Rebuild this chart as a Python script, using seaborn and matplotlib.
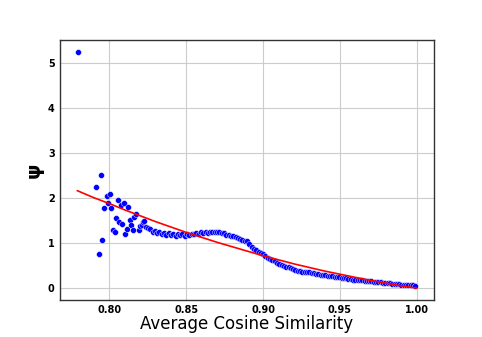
import numpy as np
import pandas as pd
import matplotlib
matplotlib.use("Agg")
import matplotlib.pyplot as plt
import seaborn as sns

# scattered points at low similarity
early_x = [0.7792, 0.7914, 0.7933, 0.7944, 0.7953, 0.7962, 0.7984, 0.7992, 0.8003, 0.8013,
           0.8023, 0.8034, 0.8043, 0.8053, 0.8063, 0.8073, 0.8082, 0.8093, 0.8102, 0.8112,
           0.8122, 0.8132, 0.8143, 0.8156, 0.8162, 0.8173, 0.8191, 0.8198, 0.8212, 0.8219,
           0.8224]
early_y = [5.25, 2.24, 0.77, 2.51, 1.07, 1.78, 2.04, 1.89, 2.09, 1.79,
           1.30, 1.25, 1.57, 1.96, 1.48, 1.85, 1.42, 1.90, 1.21, 1.31,
           1.81, 1.52, 1.40, 1.30, 1.58, 1.64, 1.29, 1.38, 1.41, 1.48,
           1.49]

# dense band of points
band_x = [0.8235, 0.8250, 0.8265, 0.8280, 0.8295, 0.8310, 0.8325, 0.8340, 0.8355, 0.8370,
          0.8385, 0.8400, 0.8415, 0.8430, 0.8445, 0.8460, 0.8475, 0.8490, 0.8505, 0.8520,
          0.8535, 0.8550, 0.8565, 0.8580, 0.8595, 0.8610, 0.8625, 0.8640, 0.8655, 0.8670,
          0.8685, 0.8700, 0.8715, 0.8730, 0.8745, 0.8760, 0.8775, 0.8790, 0.8805, 0.8820,
          0.8835, 0.8850, 0.8865, 0.8880, 0.8895, 0.8910, 0.8925, 0.8940, 0.8955, 0.8970,
          0.8985, 0.9000, 0.9015, 0.9030, 0.9045, 0.9060, 0.9075, 0.9090, 0.9105, 0.9120,
          0.9135, 0.9150, 0.9165, 0.9180, 0.9195, 0.9210, 0.9225, 0.9240, 0.9255, 0.9270,
          0.9285, 0.9300, 0.9315, 0.9330, 0.9345, 0.9360, 0.9375, 0.9390, 0.9405, 0.9420,
          0.9435, 0.9450, 0.9465, 0.9480, 0.9495, 0.9510, 0.9525, 0.9540, 0.9555, 0.9570,
          0.9585, 0.9600, 0.9615, 0.9630, 0.9645, 0.9660, 0.9675, 0.9690, 0.9705, 0.9720,
          0.9735, 0.9750, 0.9765, 0.9780, 0.9795, 0.9810, 0.9825, 0.9840, 0.9855, 0.9870,
          0.9885, 0.9900, 0.9915, 0.9930, 0.9945, 0.9960, 0.9975, 0.9990]
band_y = [1.37, 1.33, 1.31, 1.26, 1.28, 1.22, 1.25, 1.20, 1.23, 1.19,
          1.22, 1.18, 1.21, 1.17, 1.20, 1.18, 1.21, 1.17, 1.20, 1.18,
          1.21, 1.20, 1.23, 1.21, 1.24, 1.22, 1.25, 1.23, 1.25, 1.24,
          1.26, 1.24, 1.25, 1.22, 1.22, 1.19, 1.19, 1.16, 1.16, 1.13,
          1.12, 1.09, 1.08, 1.04, 1.04, 0.99, 0.91, 0.87, 0.84, 0.81,
          0.79, 0.75, 0.72, 0.68, 0.65, 0.63, 0.60, 0.56, 0.54, 0.51,
          0.49, 0.47, 0.46, 0.44, 0.42, 0.41, 0.39, 0.39, 0.37, 0.37,
          0.35, 0.35, 0.34, 0.33, 0.32, 0.32, 0.30, 0.30, 0.29, 0.28,
          0.27, 0.27, 0.25, 0.25, 0.24, 0.23, 0.23, 0.22, 0.21, 0.21,
          0.19, 0.19, 0.18, 0.18, 0.17, 0.16, 0.16, 0.15, 0.15, 0.14,
          0.14, 0.13, 0.13, 0.12, 0.12, 0.11, 0.11, 0.10, 0.10, 0.09,
          0.09, 0.08, 0.08, 0.07, 0.07, 0.06, 0.06, 0.05]

# fitted curve (red)
fit_x = [0.779, 0.79, 0.80, 0.81, 0.82, 0.83, 0.84, 0.85, 0.86, 0.87, 0.88, 0.89,
         0.90, 0.91, 0.92, 0.93, 0.94, 0.95, 0.96, 0.97, 0.98, 0.99, 1.00]
fit_y = [2.17, 2.01, 1.88, 1.74, 1.61, 1.48, 1.36, 1.24, 1.13, 1.02, 0.92, 0.82,
         0.72, 0.63, 0.54, 0.46, 0.38, 0.31, 0.24, 0.17, 0.11, 0.05, 0.00]

data = pd.DataFrame({"sim": early_x + band_x, "psi": early_y + band_y})
fit = pd.DataFrame({"sim": fit_x, "psi": fit_y})

sns.set_style("whitegrid")
fig, ax = plt.subplots(figsize=(4.82, 3.37), dpi=100)

sns.scatterplot(data=data, x="sim", y="psi", color="blue", s=18, edgecolor="white",
                linewidth=0.3, ax=ax, zorder=3)
sns.lineplot(data=fit, x="sim", y="psi", color="red", linewidth=1.2, ax=ax, zorder=4)

for sp in ax.spines.values():
    sp.set_color("#333333")
    sp.set_linewidth(1.0)

ax.set_xticks([0.80, 0.85, 0.90, 0.95, 1.00])
ax.tick_params(axis="both", length=0, pad=4, labelcolor="black")
ax.set_xlabel("Average Cosine Similarity", fontsize=12, labelpad=0, color="black")
ax.set_ylabel("ψ", fontsize=14, weight="bold", labelpad=3, color="black")
for lbl in ax.get_xticklabels() + ax.get_yticklabels():
    lbl.set_fontweight("bold")
    lbl.set_fontsize(7)

fig.savefig("out.png", dpi=100)
